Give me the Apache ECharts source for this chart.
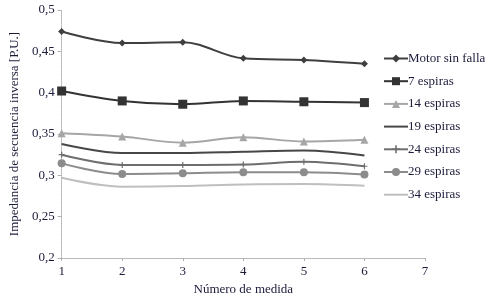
<!DOCTYPE html>
<html><head><meta charset="utf-8">
<script src="https://cdn.jsdelivr.net/npm/echarts@6/dist/echarts.min.js"></script>
<style>html,body{margin:0;padding:0;background:#fff}#c{width:492px;height:302px}</style>
</head><body><div id="c"></div>
<script>
const xValues = [1, 2, 3, 4, 5, 6];
const seriesNames = ['Motor sin falla', '7 espiras', '14 espiras', '19 espiras', '24 espiras', '29 espiras', '34 espiras'];
const motorSinFalla = [0.474, 0.460, 0.461, 0.4415, 0.4395, 0.435];
const espiras7 = [0.402, 0.390, 0.386, 0.390, 0.389, 0.388];
const espiras14 = [0.351, 0.347, 0.3395, 0.346, 0.341, 0.343];
const espiras19 = [0.338, 0.327, 0.327, 0.3286, 0.330, 0.324];
const espiras24 = [0.325, 0.3125, 0.3125, 0.313, 0.3165, 0.311];
const espiras29 = [0.3145, 0.3016, 0.3025, 0.3037, 0.3037, 0.301];
const espiras34 = [0.297, 0.2863, 0.287, 0.289, 0.2895, 0.2875];
const yTicks = ['0,2', '0,25', '0,3', '0,35', '0,4', '0,45', '0,5'];

const allData = [motorSinFalla, espiras7, espiras14, espiras19, espiras24, espiras29, espiras34];
const crossPath = 'path://M4,0H6V4H10V6H6V10H4V6H0V4H4Z';
const linePath = 'path://M0,4H24V6H0Z';
const styles = [
  {color: '#3f3f3f', symbol: 'diamond', size: 7, width: 2, legendIcon: null},
  {color: '#333333', symbol: 'rect', size: 9, width: 2, legendIcon: null},
  {color: '#a6a6a6', symbol: 'triangle', size: 8, width: 2, legendIcon: null},
  {color: '#474747', symbol: 'none', size: 0, width: 2, legendIcon: linePath},
  {color: '#6e6e6e', symbol: crossPath, size: 6, width: 2, legendIcon: null},
  {color: '#8c8c8c', symbol: 'circle', size: 8, width: 2, legendIcon: null},
  {color: '#bfbfbf', symbol: 'none', size: 0, width: 2, legendIcon: linePath}
];
const font = '"Times New Roman", "Liberation Serif", "DejaVu Serif", serif';
const textColor = '#1b1b3a';

const series = seriesNames.map((n, i) => ({
  name: n,
  type: 'line',
  smooth: 0.35,
  data: xValues.map((x, j) => [x, allData[i][j]]),
  symbol: styles[i].symbol,
  symbolSize: styles[i].size,
  showSymbol: styles[i].symbol !== 'none',
  lineStyle: {color: styles[i].color, width: styles[i].width},
  itemStyle: {color: styles[i].color},
  z: 10 - i
}));

const chart = echarts.init(document.getElementById('c'), null, {renderer: 'canvas'});
chart.setOption({
  animation: false,
  backgroundColor: '#ffffff',
  textStyle: {fontFamily: font},
  grid: {left: 53, right: 67, top: 10, bottom: 44, containLabel: false},
  xAxis: {
    type: 'value', min: 1, max: 7, interval: 1,
    name: 'Número de medida', nameLocation: 'middle', nameGap: 24,
    nameTextStyle: {fontFamily: font, fontSize: 13, color: textColor},
    axisLine: {show: true, lineStyle: {color: '#b0b0b0', type: 'dotted', width: 1}},
    axisTick: {show: true, length: 3, lineStyle: {color: '#b0b0b0'}},
    axisLabel: {fontFamily: font, fontSize: 13, color: textColor, margin: 7},
    splitLine: {show: false}
  },
  yAxis: {
    type: 'value', min: 0.2, max: 0.5, interval: 0.05,
    name: 'Impedancia de secuencia inversa [P.U.]', nameLocation: 'middle', nameGap: 39,
    nameTextStyle: {fontFamily: font, fontSize: 13, color: textColor},
    axisLine: {show: true, lineStyle: {color: '#b0b0b0', type: 'dotted', width: 1}},
    axisTick: {show: true, length: 4, lineStyle: {color: '#b0b0b0'}},
    axisLabel: {fontFamily: font, fontSize: 13, color: textColor, margin: 7,
      formatter: v => yTicks[Math.round((v - 0.2) / 0.05)]},
    splitLine: {show: false}
  },
  legend: {
    orient: 'vertical', left: 378, top: 47,
    itemWidth: 24, itemHeight: 10, itemGap: 9.7,
    textStyle: {fontFamily: font, fontSize: 13, color: textColor, padding: [0,0,0,-5]},
    data: seriesNames.map((n, i) => styles[i].legendIcon ? {name: n, icon: styles[i].legendIcon} : {name: n})
  },
  series: series
});
</script></body></html>
